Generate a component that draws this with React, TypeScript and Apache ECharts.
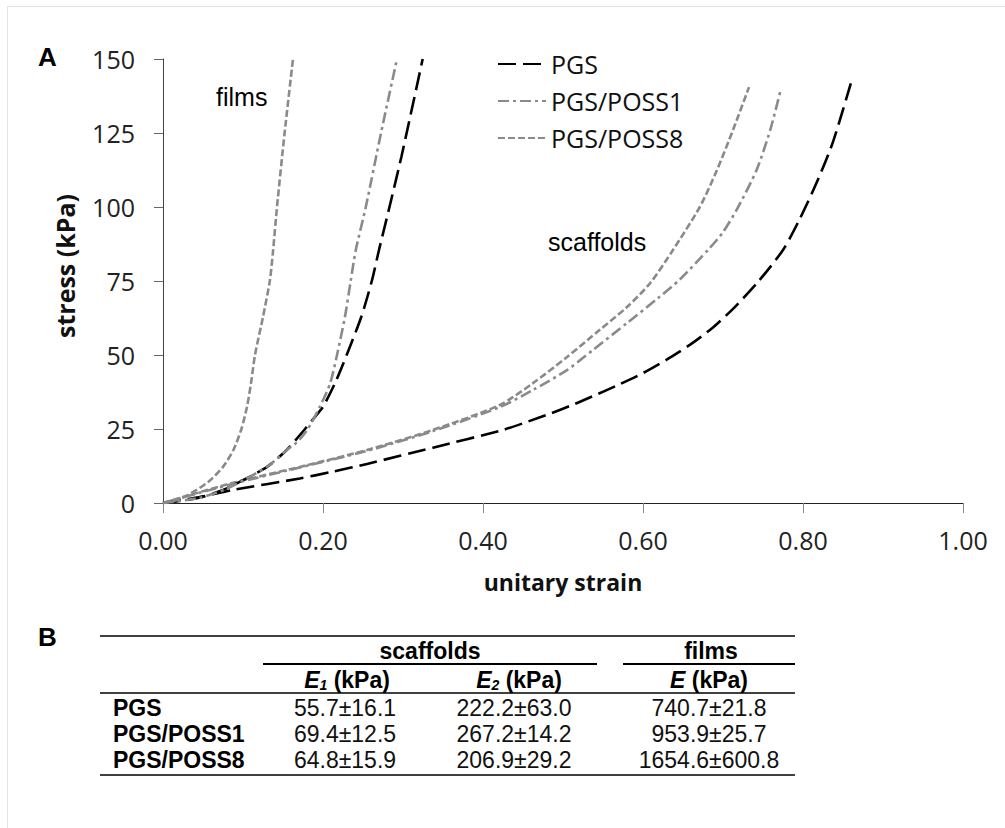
import React, { useEffect, useRef } from "react";
import * as echarts from "echarts";

// ---- data: [unitary strain, stress kPa] ----
const pgsScaffold: number[][] = [
  [0, 0], [0.046, 2.0], [0.0875, 4.4], [0.171, 8.3], [0.2125, 10.6], [0.255, 13.2],
  [0.3375, 18.7], [0.425, 24.7], [0.455, 27.4], [0.484, 30.2], [0.5125, 33.2],
  [0.5375, 36.1], [0.5675, 39.7], [0.6, 43.9], [0.63, 48.5], [0.659, 53.5], [0.6875, 59.3],
  [0.7125, 65.6], [0.7425, 74.3], [0.775, 85.5], [0.796, 96], [0.8175, 108.5],
  [0.8375, 122], [0.86, 142],
];
const poss1Scaffold: number[][] = [
  [0, 0], [0.025, 1.9], [0.0875, 6.5], [0.171, 12], [0.255, 17.6], [0.3375, 24.3],
  [0.421, 32.4], [0.4625, 38.2], [0.505, 44.9], [0.5375, 51.7], [0.58, 60.8],
  [0.62, 69.5], [0.646, 75.5], [0.683, 86], [0.7, 91.5], [0.718, 99.5], [0.742, 112.5],
  [0.759, 126], [0.7725, 140],
];
const poss8Scaffold: number[][] = [
  [0, 0], [0.025, 2], [0.0875, 6.8], [0.171, 12.2], [0.255, 17.9], [0.3375, 24.7],
  [0.421, 33.1], [0.4625, 40.5], [0.505, 49.3], [0.546, 58.5], [0.58, 66.2],
  [0.609, 74.3], [0.6375, 85.5], [0.671, 100], [0.6925, 112.5], [0.7125, 126],
  [0.7325, 140.5],
];
const pgsFilm: number[][] = [
  [0, 0], [0.042, 1.6], [0.075, 4.4], [0.1, 7.7], [0.13, 12.2], [0.1546, 17.9],
  [0.1775, 25], [0.19, 29.1], [0.2, 32.5], [0.215, 40.5], [0.2296, 50], [0.248, 63],
  [0.261, 75], [0.27, 85.5], [0.284, 101], [0.298, 117], [0.311, 133], [0.3246, 150],
];
const poss1Film: number[][] = [
  [0, 0], [0.045, 1.7], [0.078, 4.6], [0.102, 7.9], [0.131, 12.4], [0.155, 18],
  [0.167, 20.4], [0.181, 25], [0.196, 32.5], [0.209, 40.5], [0.2175, 50], [0.2275, 63],
  [0.2346, 75], [0.241, 85.5], [0.2535, 100], [0.2725, 125], [0.2925, 150],
];
const poss8Film: number[][] = [
  [0, 0], [0.02, 1.2], [0.042, 4.4], [0.059, 7.7], [0.075, 12.2], [0.088, 17.9],
  [0.098, 25], [0.105, 32.5], [0.11, 40.5], [0.115, 50], [0.125, 62.9], [0.1335, 75],
  [0.1375, 85], [0.1425, 100], [0.152, 125], [0.1625, 150],
];

const seriesNames = ["PGS", "PGS/POSS1", "PGS/POSS8"];

// ---- table B ----
const tableRows = ["PGS", "PGS/POSS1", "PGS/POSS8"];
const tableE1 = ["55.7±16.1", "69.4±12.5", "64.8±15.9"];
const tableE2 = ["222.2±63.0", "267.2±14.2", "206.9±29.2"];
const tableE = ["740.7±21.8", "953.9±25.7", "1654.6±600.8"];

const GRAY = "#8a8a8a";
const ARIAL = "Liberation Sans, Arial, sans-serif";
const OPEN = "Open Sans, sans-serif";

export default function App() {
  const ref = useRef<HTMLDivElement>(null);

  useEffect(() => {
    if (!ref.current) return;
    const chart = echarts.init(ref.current, null, { renderer: "svg" });

    const styles: Record<string, any> = {
      PGS: { color: "#000", width: 2.6, type: [18, 7] },
      "PGS/POSS1": { color: GRAY, width: 2.6, type: [11, 4, 3, 4] },
      "PGS/POSS8": { color: GRAY, width: 2.6, type: [7, 3] },
    };
    const mk = (name: string, data: number[][]) => ({
      name,
      type: "line",
      data,
      symbol: "none",
      smooth: 0.25,
      color: styles[name].color,
      lineStyle: { color: styles[name].color, width: styles[name].width, type: styles[name].type },
    });

    const rowY = [708, 734, 760];
    const graphics: any[] = [
      {
        type: "rect",
        shape: { x: 7.5, y: 6.5, width: 1010, height: 840 },
        style: { fill: "none", stroke: "#e4e4e4", lineWidth: 1 },
        silent: true,
      },
      { type: "text", x: 38, y: 57, style: { text: "A", fill: "#000", font: `bold 26px ${ARIAL}`, align: "left", verticalAlign: "middle" } },
      { type: "text", x: 38, y: 637, style: { text: "B", fill: "#000", font: `bold 26px ${ARIAL}`, align: "left", verticalAlign: "middle" } },
      { type: "text", x: 216, y: 97, style: { text: "films", fill: "#000", font: `25px ${ARIAL}`, align: "left", verticalAlign: "middle" } },
      { type: "text", x: 548, y: 242, style: { text: "scaffolds", fill: "#000", font: `25px ${ARIAL}`, align: "left", verticalAlign: "middle" } },
      // table lines
      { type: "line", shape: { x1: 100, y1: 636, x2: 795, y2: 636 }, style: { stroke: "#000", lineWidth: 1.5 } },
      { type: "line", shape: { x1: 263, y1: 664, x2: 597, y2: 664 }, style: { stroke: "#000", lineWidth: 2 } },
      { type: "line", shape: { x1: 623, y1: 664, x2: 795, y2: 664 }, style: { stroke: "#000", lineWidth: 2 } },
      { type: "line", shape: { x1: 100, y1: 693, x2: 795, y2: 693 }, style: { stroke: "#000", lineWidth: 1.5 } },
      { type: "line", shape: { x1: 100, y1: 775, x2: 795, y2: 775 }, style: { stroke: "#000", lineWidth: 1.5 } },
      { type: "text", x: 430, y: 651, style: { text: "scaffolds", fill: "#000", font: `bold 23px ${ARIAL}`, align: "center", verticalAlign: "middle" } },
      { type: "text", x: 711, y: 651, style: { text: "films", fill: "#000", font: `bold 23px ${ARIAL}`, align: "center", verticalAlign: "middle" } },
    ];
    const rich = {
      e: { fontFamily: ARIAL, fontSize: 23, fontWeight: "bold", fontStyle: "italic", fill: "#000" },
      sub: { fontFamily: ARIAL, fontSize: 14, fontWeight: "bold", fontStyle: "italic", fill: "#000", padding: [9, 0, 0, 0] },
      b: { fontFamily: ARIAL, fontSize: 23, fontWeight: "bold", fill: "#000" },
    };
    const headers: [number, string][] = [
      [347, "{e|E}{sub|1}{b| (kPa)}"],
      [519, "{e|E}{sub|2}{b| (kPa)}"],
      [709, "{e|E}{b| (kPa)}"],
    ];
    headers.forEach(([x, t]) => {
      graphics.push({ type: "text", x, y: 680, style: { text: t, rich, align: "center", verticalAlign: "middle" } });
    });
    tableRows.forEach((r, i) => {
      graphics.push({ type: "text", x: 113, y: rowY[i], style: { text: r, fill: "#000", font: `bold 23px ${ARIAL}`, align: "left", verticalAlign: "middle" } });
      graphics.push({ type: "text", x: 345, y: rowY[i], style: { text: tableE1[i], fill: "#111", font: `23px ${ARIAL}`, align: "center", verticalAlign: "middle" } });
      graphics.push({ type: "text", x: 514, y: rowY[i], style: { text: tableE2[i], fill: "#111", font: `23px ${ARIAL}`, align: "center", verticalAlign: "middle" } });
      graphics.push({ type: "text", x: 709, y: rowY[i], style: { text: tableE[i], fill: "#111", font: `23px ${ARIAL}`, align: "center", verticalAlign: "middle" } });
    });

    chart.setOption({
      animation: false,
      backgroundColor: "#fff",
      grid: { left: 163, right: 42, top: 59, bottom: 325, containLabel: false },
      legend: {
        orient: "vertical",
        left: 497,
        top: 51,
        itemWidth: 48,
        itemHeight: 14,
        itemGap: 11,
        padding: 0,
        data: seriesNames,
        itemStyle: { opacity: 0 },
        textStyle: { fontFamily: OPEN, fontSize: 25, color: "#111", lineHeight: 26 },
      },
      xAxis: {
        type: "value",
        min: 0,
        max: 1,
        interval: 0.2,
        name: "unitary strain",
        nameLocation: "middle",
        nameGap: 67,
        nameTextStyle: { fontFamily: OPEN, fontSize: 23, fontWeight: "bold", color: "#111" },
        axisLine: { show: true, lineStyle: { color: "#222", width: 1 } },
        axisTick: { show: true, length: 10, lineStyle: { color: "#888" } },
        axisLabel: { fontFamily: OPEN, fontSize: 25, color: "#222", margin: 24, formatter: (v: number) => v.toFixed(2) },
        splitLine: { show: false },
      },
      yAxis: {
        type: "value",
        min: 0,
        max: 150,
        interval: 25,
        name: "stress (kPa)",
        nameLocation: "middle",
        nameGap: 86,
        nameTextStyle: { fontFamily: OPEN, fontSize: 25, fontWeight: "bold", color: "#111", padding: [0, 0, 0, 30] },
        axisLine: { show: true, lineStyle: { color: "#444", width: 1 } },
        axisTick: { show: true, length: 9, lineStyle: { color: "#666" } },
        axisLabel: { fontFamily: OPEN, fontSize: 25, color: "#222", margin: 28 },
        splitLine: { show: false },
      },
      series: [
        mk("PGS", pgsScaffold),
        mk("PGS/POSS1", poss1Scaffold),
        mk("PGS/POSS8", poss8Scaffold),
        mk("PGS", pgsFilm),
        mk("PGS/POSS1", poss1Film),
        mk("PGS/POSS8", poss8Film),
      ],
      graphic: graphics,
    });

    return () => chart.dispose();
  }, []);

  return (
    <div
      ref={ref}
      style={{ position: "absolute", left: 0, top: 0, width: 1005, height: 828, background: "#fff" }}
    />
  );
}
